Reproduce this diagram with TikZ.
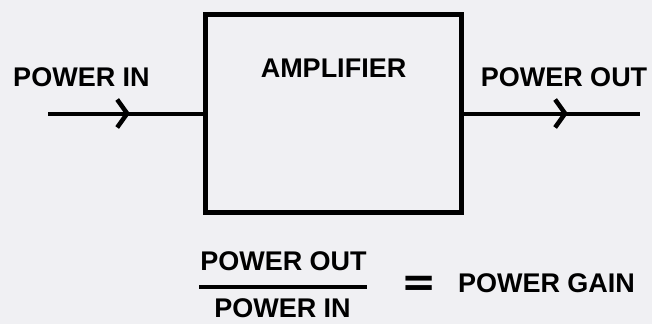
\documentclass[tikz,border=0pt]{standalone}
\usepackage{fontspec}
\setmainfont{Liberation Sans}
\newfontfamily\eqfont{DejaVu Sans}
\usetikzlibrary{positioning,arrows.meta,decorations.markings}
\definecolor{paper}{RGB}{240,240,243}

\begin{document}
\begin{tikzpicture}[
  x=1pt, y=-1pt,
  lbl/.style={font=\fontsize{27}{30}\selectfont\bfseries, inner sep=0pt},
  blockbox/.style={draw, line width=4.5pt, minimum width=256pt, minimum height=198pt, inner sep=0pt},
  wire/.style={line width=4pt, postaction={decorate},
    decoration={markings, mark=at position #1 with {\draw[line width=4.5pt] (-10pt,-14pt) -- (0pt,0pt) -- (-10pt,14pt);}}},
  wire/.default=0.5,
]
\fill[paper] (0,0) rectangle (652,324);
\useasboundingbox (0,0) rectangle (652,324);

% amplifier block
\node[blockbox] (amp) at (333.5,113.5) {};
\node[lbl, below=46pt of amp.north] (ampname) {AMPLIFIER};

% input and output
\coordinate (inStart) at (48,113.5);
\coordinate (outEnd) at (640,113.5);
\node[lbl] (pin) at (81.5,77) {POWER IN};
\node[lbl] (pout) at (564,77) {POWER OUT};
\draw[wire=0.51] (inStart) -- (amp.west);
\draw[wire=0.575] (amp.east) -- (outEnd);

% gain ratio
\node[lbl] (num) at (283.5,261) {POWER OUT};
\node[lbl] (den) at (282.5,308.5) {POWER IN};
\coordinate (barL) at (199,287);
\coordinate (barR) at (367,287);
\draw[line width=4pt] (barL) -- (barR);
\node[lbl, font=\fontsize{42}{46}\selectfont\eqfont\bfseries] (eq) at (419.5,286) {=};
\node[lbl] (gain) at (546.5,283) {POWER GAIN};
\end{tikzpicture}
\end{document}
